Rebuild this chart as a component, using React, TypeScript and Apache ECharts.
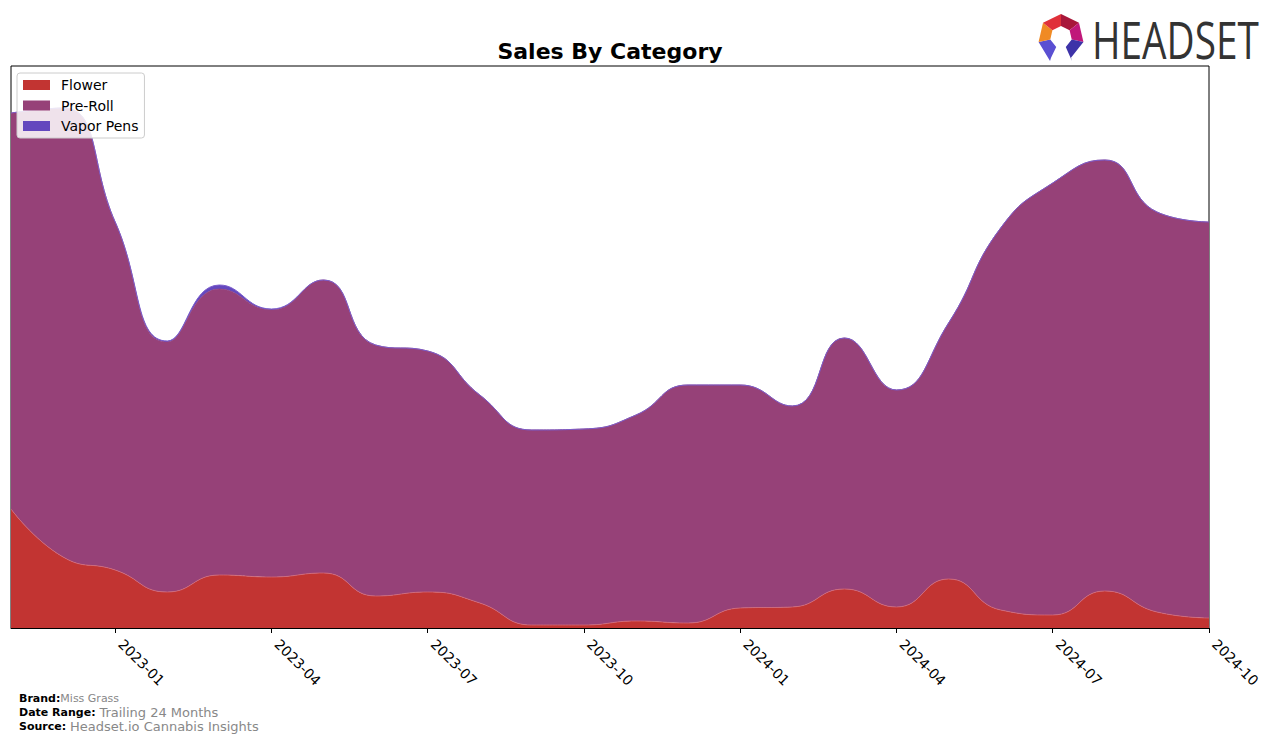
import React, { useEffect, useRef } from "react";
import * as echarts from "echarts";

const months = [
  "2022-11", "2022-12", "2023-01", "2023-02", "2023-03", "2023-04", "2023-05", "2023-06",
  "2023-07", "2023-08", "2023-09", "2023-10", "2023-11", "2023-12", "2024-01", "2024-02",
  "2024-03", "2024-04", "2024-05", "2024-06", "2024-07", "2024-08", "2024-09", "2024-10",
];
const flower = [119, 71, 58, 36, 53, 51, 55, 32, 36, 25, 3, 3, 7, 5, 20, 21, 39, 21, 49, 18, 13, 37, 16, 10];
const preRoll = [396, 449, 348, 250, 286, 267, 293, 251, 241, 208, 195, 196, 206, 238, 223, 201, 251, 217, 256, 382, 432, 431, 400, 396];
const vaporPens = [0, 0, 0, 1, 4, 1, 0, 0, 0, 0, 0, 0, 0, 0, 0, 0, 0, 0, 0, 0, 0, 0, 0, 0];

const FONT = "DejaVu Sans";

export default function App() {
  const ref = useRef<HTMLDivElement>(null);
  useEffect(() => {
    if (!ref.current) return;
    const chart = echarts.init(ref.current, null, { renderer: "svg" });
    const cx = 1061, cy = 37, R = 23, r = 11;
    const angs = [-90, -38.57, 12.86, 64.29, 115.71, 167.14, 218.57, 270];
    const pt = (a: number, rad: number) => [cx + rad * Math.cos((a * Math.PI) / 180), cy + rad * Math.sin((a * Math.PI) / 180)];
    const facetColors = ["#a8173a", "#c0187a", "#3d33a8", null, "#5a4fd2", "#f08a24", "#e0303a"];
    const facets: any[] = [];
    facetColors.forEach((c, i) => {
      if (!c) return;
      const a0 = angs[i], a1 = angs[i + 1];
      const pts = [pt(a0, R), pt(a1, R), pt(a1, r), pt(a0, r)];
      if (i === 2) pts.splice(2, 0, [pt(a1, R)[0] + 1, cy + 24]);
      if (i === 4) pts.splice(1, 0, [pt(a0, R)[0] - 1, cy + 24]);
      facets.push({ type: "polygon", shape: { points: pts }, style: { fill: c } });
    });
    chart.setOption({
      animation: false,
      title: {
        text: "Sales By Category",
        left: 605,
        top: 35,
        textAlign: "center",
        textStyle: { fontFamily: FONT, fontSize: 22, fontWeight: "bold", color: "#000" },
      },
      legend: {
        orient: "vertical",
        left: 17,
        top: 73,
        padding: [5, 6, 5, 6],
        itemGap: 6.5,
        itemWidth: 27,
        itemHeight: 10,
        icon: "rect",
        backgroundColor: "rgba(255,255,255,0.85)",
        borderColor: "#cccccc",
        borderWidth: 1,
        borderRadius: 3,
        textStyle: { fontFamily: FONT, fontSize: 14, color: "#000", padding: [0, 0, 0, 6] },
        data: ["Flower", "Pre-Roll", "Vapor Pens"],
      },
      grid: {
        left: 11,
        top: 66,
        width: 1198,
        height: 562,
        show: true,
        borderColor: "#000",
        borderWidth: 1,
        backgroundColor: "transparent",
      },
      xAxis: {
        type: "category",
        data: months,
        boundaryGap: false,
        axisLine: { show: true, lineStyle: { color: "#000", width: 1 } },
        axisTick: {
          show: true,
          interval: (i: number) => i % 3 === 2,
          length: 5,
          lineStyle: { color: "#000" },
        },
        axisLabel: {
          interval: (i: number) => i % 3 === 2,
          rotate: -45,
          margin: 8,
          padding: [0, 0, 0, 8],
          fontFamily: FONT,
          fontSize: 14,
          color: "#000",
        },
        splitLine: { show: false },
      },
      yAxis: {
        type: "value",
        min: 0,
        max: 562,
        show: false,
        splitLine: { show: false },
      },
      series: [
        {
          name: "Flower",
          type: "line",
          stack: "total",
          smooth: 0.5,
          symbol: "none",
          data: flower,
          itemStyle: { color: "#c23432" },
          lineStyle: { color: "#d46a78", width: 0.8 },
          areaStyle: { color: "#c23432", opacity: 1 },
        },
        {
          name: "Pre-Roll",
          type: "line",
          stack: "total",
          smooth: 0.5,
          symbol: "none",
          data: preRoll,
          itemStyle: { color: "#964178" },
          lineStyle: { color: "#964178", width: 0.8 },
          areaStyle: { color: "#964178", opacity: 1 },
        },
        {
          name: "Vapor Pens",
          type: "line",
          stack: "total",
          smooth: 0.5,
          symbol: "none",
          data: vaporPens,
          itemStyle: { color: "#6448be" },
          lineStyle: { color: "#7a5ccc", width: 1 },
          areaStyle: { color: "#6448be", opacity: 1 },
        },
      ],
      graphic: [
        { type: "group", children: facets },
        {
          type: "text",
          x: 1092,
          y: 39,
          scaleX: 0.76,
          style: {
            text: "HEADSET",
            fontFamily: "Open Sans",
            fontSize: 51,
            fill: "#333333",
            verticalAlign: "middle",
            align: "left",
          },
        },
        {
          type: "text",
          left: 19,
          top: 693,
          style: {
            text: "{b|Brand:}{g|Miss Grass}",
            rich: {
              b: { fontFamily: FONT, fontSize: 11, fontWeight: "bold", fill: "#000" },
              g: { fontFamily: FONT, fontSize: 11, fill: "#888" },
            },
          },
        },
        {
          type: "text",
          left: 19,
          top: 706,
          style: {
            text: "{b|Date Range: }{g|Trailing 24 Months}",
            rich: {
              b: { fontFamily: FONT, fontSize: 11, fontWeight: "bold", fill: "#000" },
              g: { fontFamily: FONT, fontSize: 13, fill: "#888" },
            },
          },
        },
        {
          type: "text",
          left: 19,
          top: 720,
          style: {
            text: "{b|Source: }{g|Headset.io Cannabis Insights}",
            rich: {
              b: { fontFamily: FONT, fontSize: 11, fontWeight: "bold", fill: "#000" },
              g: { fontFamily: FONT, fontSize: 13, fill: "#888" },
            },
          },
        },
      ],
    });
    return () => chart.dispose();
  }, []);
  return (
    <div
      ref={ref}
      style={{ position: "absolute", left: 0, top: 0, width: 1276, height: 743, background: "#fff" }}
    />
  );
}
